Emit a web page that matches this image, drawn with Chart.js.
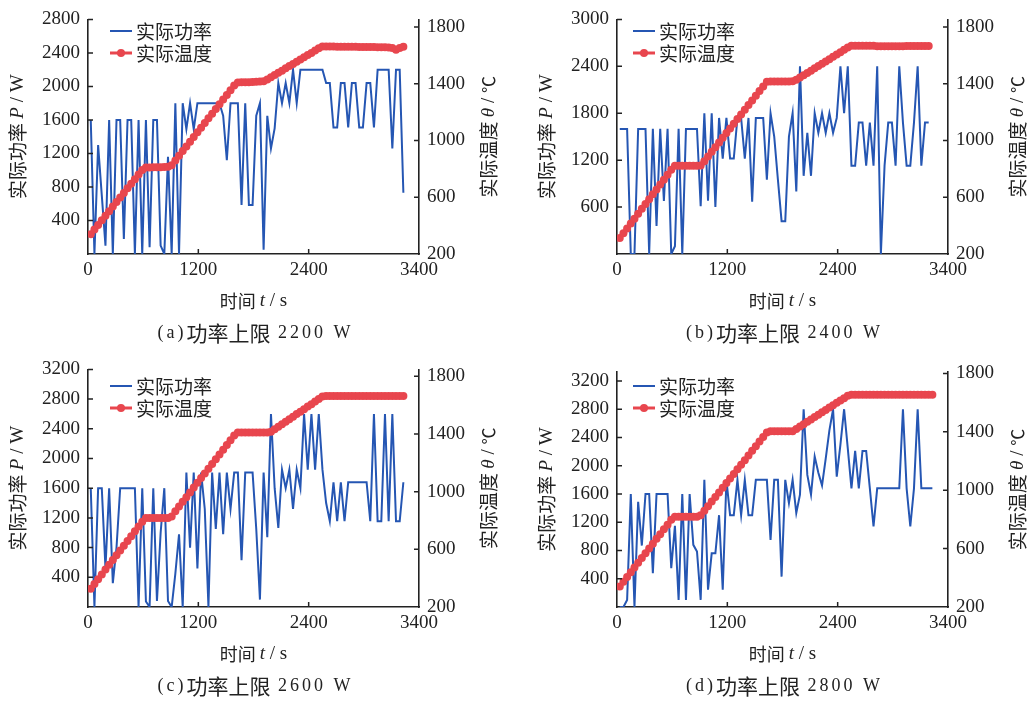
<!DOCTYPE html>
<html>
<head>
<meta charset="utf-8">
<script src="https://cdn.jsdelivr.net/npm/chart.js@4/dist/chart.umd.min.js"></script>
<style>
  html, body { margin: 0; padding: 0; background: #fff; }
  #wrap { position: relative; width: 1035px; height: 701px; }
  .cell { position: absolute; }
</style>
</head>
<body>
<div id="wrap">
  <div class="cell" style="left:0;top:0"><canvas id="cA" width="517" height="350"></canvas></div>
  <div class="cell" style="left:517px;top:0"><canvas id="cB" width="518" height="350"></canvas></div>
  <div class="cell" style="left:0;top:350px"><canvas id="cC" width="517" height="351"></canvas></div>
  <div class="cell" style="left:517px;top:350px"><canvas id="cD" width="518" height="351"></canvas></div>
</div>
<script>
// time samples (s)
const timeS = [30,70,110,150,190,230,270,310,350,390,
  430,470,510,550,590,630,670,710,750,790,
  830,870,910,950,990,1030,1070,1110,1150,1190,
  1230,1270,1310,1350,1390,1430,1470,1510,1550,1590,
  1630,1670,1710,1750,1790,1830,1870,1910,1950,1990,
  2030,2070,2110,2150,2190,2230,2270,2310,2350,2390,
  2430,2470,2510,2550,2590,2630,2670,2710,2750,2790,
  2830,2870,2910,2950,2990,3030,3070,3110,3150,3190,
  3230,3270,3310,3350,3390,3430];

// (a) power limit 2200 W
const powerA = [1600,0,1300,700,100,1600,0,1600,1600,180,
  1600,1600,0,1600,0,1600,80,1600,1600,100,
  0,1160,0,1800,0,1800,1490,1800,1490,1800,
  1800,1800,1800,1800,1800,1800,1650,1120,1800,1800,
  1800,585,1800,585,585,1650,1800,50,1650,1260,
  1500,2040,1800,2040,1800,2200,1800,2200,2200,2200,
  2200,2200,2200,2200,2040,2040,1510,1510,2040,2040,
  1510,2040,2040,1510,1510,2040,2040,1510,2200,2200,
  2200,2200,1260,2200,2200,730];
const tempA = [340,372,405,437,469,501,534,566,598,630,
  663,695,727,760,792,810,810,811,812,812,
  813,814,826,859,892,925,958,991,1024,1057,
  1090,1123,1156,1189,1222,1255,1288,1321,1354,1387,
  1409,1410,1410,1411,1412,1414,1416,1418,1430,1446,
  1461,1477,1492,1508,1524,1539,1555,1570,1586,1602,
  1617,1633,1649,1662,1662,1662,1662,1661,1661,1661,
  1660,1660,1660,1659,1659,1659,1658,1658,1657,1657,
  1656,1655,1652,1640,1652,1660];

// (b) power limit 2400 W
const powerB = [1600,1600,1600,0,0,1600,1600,1600,0,1600,
  360,1600,680,1600,0,100,1600,0,1600,1600,
  1600,1600,610,1800,680,1800,600,1740,1220,1740,
  1220,1220,1740,1740,1220,1740,670,1740,1740,1740,
  950,1800,1500,950,420,420,1500,1800,800,2400,
  1000,1550,1000,1800,1550,1800,1550,1800,1550,1740,
  2400,1800,2400,1130,1130,1680,1680,1130,1680,1130,
  2400,0,1130,1680,1680,1130,2400,1680,1130,1130,
  1680,2400,1130,1680,1680,null];
const tempB = [312,346,380,415,449,483,518,552,586,621,
  655,690,724,758,793,822,822,822,822,822,
  822,822,823,854,887,920,953,986,1019,1052,
  1085,1118,1151,1183,1216,1249,1282,1315,1348,1380,
  1413,1416,1416,1416,1416,1416,1416,1417,1427,1443,
  1459,1476,1492,1508,1525,1541,1557,1573,1590,1606,
  1622,1639,1655,1667,1667,1667,1667,1667,1667,1667,
  1664,1663,1663,1663,1664,1664,1664,1664,1665,1665,
  1665,1665,1665,1665,1665,null];

// (c) power limit 2600 W
const powerC = [1600,0,1600,1600,520,1600,320,800,1600,1600,
  1600,1600,1600,0,1600,75,0,1600,80,1000,
  1600,80,0,450,980,0,1810,800,1810,520,
  1810,1320,0,1810,1050,1810,980,1810,1320,1810,
  1810,630,1810,1810,1810,1050,100,1810,940,2600,
  1600,1066,1850,1600,1850,1320,1850,1600,2600,1850,
  2600,1850,2600,1850,1400,1155,1680,1155,1680,1155,
  1680,1680,1680,1680,1680,1680,1155,2600,1155,1155,
  2600,1155,2600,1155,1155,1680];
const tempC = [327,360,393,426,460,493,526,559,592,625,
  658,691,725,758,791,818,818,818,818,818,
  818,818,828,864,897,930,962,995,1028,1061,
  1094,1126,1159,1192,1225,1258,1290,1323,1356,1389,
  1411,1411,1411,1411,1411,1411,1411,1411,1411,1416,
  1433,1451,1468,1485,1503,1520,1538,1555,1572,1590,
  1607,1625,1642,1660,1663,1663,1663,1663,1663,1663,
  1663,1663,1663,1663,1663,1663,1663,1663,1663,1663,
  1663,1663,1663,1663,1663,1663];

// (d) power limit 2800 W
const powerD = [0,0,100,1600,0,1490,870,1600,1600,480,
  1600,1600,1600,1600,550,1150,100,1600,100,1600,
  880,786,100,1800,245,760,760,1300,245,1800,
  1300,1300,1800,1300,1800,1300,1300,1800,1800,1800,
  1800,950,1800,1800,430,1800,1470,1800,1330,1590,
  2800,1870,1590,2130,1900,1720,2100,2500,2800,1845,
  2300,2800,2245,1680,2210,1680,2210,2210,1680,1140,
  1680,1680,1680,1680,1680,1680,1680,2800,1680,1140,
  1680,2800,1680,1680,1680,1680];
const tempD = [340,373,405,438,471,503,536,569,601,634,
  667,699,732,764,797,819,819,819,819,819,
  819,819,828,859,891,922,954,985,1017,1049,
  1080,1112,1143,1175,1206,1238,1270,1301,1333,1364,
  1396,1404,1404,1404,1404,1404,1404,1404,1420,1436,
  1452,1469,1485,1501,1517,1534,1550,1566,1582,1599,
  1615,1631,1647,1654,1654,1654,1654,1654,1654,1654,
  1654,1654,1654,1654,1654,1654,1654,1654,1654,1654,
  1654,1654,1654,1654,1654,1654];

// tick labels
const timeTicks = [0, 1200, 2400, 3600];
const timeTickLabels = ['0', '1200', '2400', '3400'];
const powerTicksA = [0,400,800,1200,1600,2000,2400,2800];
const powerTicksB = [0,600,1200,1800,2400,3000];
const powerTicksCD = [0,400,800,1200,1600,2000,2400,2800,3200];
const tempTicks = [200,600,1000,1400,1800];

const seriesNames = ['实际功率', '实际温度'];
const panelLetters = ['a', 'b', 'c', 'd'];
const powerLimits = ['2200', '2400', '2600', '2800'];

const BLUE = '#2556b3';
const RED = '#e8464e';
const INK = '#222';
const CJK = '"Noto Sans CJK SC"';
const SERIF = '"Liberation Serif", "DejaVu Serif", serif';

function drawRuns(ctx, runs, x, y) {
  let total = 0;
  runs.forEach(r => {
    ctx.font = r.font;
    r.w = ctx.measureText(r.text).width + (r.ls || 0) * r.text.length;
    total += r.w;
  });
  let cx = x - total / 2;
  ctx.textAlign = 'left';
  ctx.textBaseline = 'middle';
  runs.forEach(r => {
    ctx.font = r.font;
    if (r.ls) {
      for (const ch of r.text) {
        ctx.fillText(ch, cx, y);
        cx += ctx.measureText(ch).width + r.ls;
      }
    } else {
      ctx.fillText(r.text, cx, y);
      cx += r.w;
    }
  });
}

const decor = {
  id: 'decor',
  afterDraw(chart, args, o) {
    const { ctx, chartArea: a, scales } = chart;
    ctx.save();
    // inward tick marks
    ctx.strokeStyle = INK;
    ctx.lineWidth = 1.5;
    ctx.beginPath();
    scales.x.ticks.forEach(t => {
      const px = scales.x.getPixelForValue(t.value);
      if (px > a.left + 2 && px < a.right - 2) { ctx.moveTo(px, a.bottom); ctx.lineTo(px, a.bottom - 5); }
    });
    scales.yP.ticks.forEach(t => {
      const py = scales.yP.getPixelForValue(t.value);
      if (py < a.bottom - 2) { ctx.moveTo(a.left, py); ctx.lineTo(a.left + 5, py); }
    });
    scales.yT.ticks.forEach(t => {
      const py = scales.yT.getPixelForValue(t.value);
      if (py < a.bottom - 2) { ctx.moveTo(a.right, py); ctx.lineTo(a.right - 5, py); }
    });
    ctx.stroke();

    ctx.fillStyle = INK;
    const cy = (a.top + a.bottom) / 2;
    // left title
    ctx.save();
    ctx.translate(a.left - 70, cy);
    ctx.rotate(-Math.PI / 2);
    drawRuns(ctx, [
      { text: '实际功率 ', font: '19px ' + CJK },
      { text: 'P', font: 'italic 19px ' + SERIF },
      { text: ' / W', font: '19px ' + SERIF }
    ], 0, 0);
    ctx.restore();
    // right title
    ctx.save();
    ctx.translate(a.right + 70, cy);
    ctx.rotate(-Math.PI / 2);
    drawRuns(ctx, [
      { text: '实际温度 ', font: '19px ' + CJK },
      { text: 'θ', font: 'italic 19px ' + SERIF },
      { text: ' / ', font: '19px ' + SERIF },
      { text: '℃', font: '17px ' + CJK }
    ], 0, 0);
    ctx.restore();
    // x title
    const cx = (a.left + a.right) / 2;
    drawRuns(ctx, [
      { text: '时间 ', font: '18px ' + CJK },
      { text: 't', font: 'italic 19px ' + SERIF },
      { text: ' / s', font: '19px ' + SERIF }
    ], cx, a.bottom + 47);
    // caption
    drawRuns(ctx, [
      { text: '(' + o.letter + ')', font: '18px ' + SERIF, ls: 3 },
      { text: '功率上限', font: '21px ' + CJK },
      { text: ' ' + o.limit + ' W', font: '18px ' + SERIF, ls: 3 }
    ], cx + 2, a.bottom + 79);

    // legend
    const [lx, ly] = o.legend;
    ctx.font = '19px ' + CJK;
    ctx.textAlign = 'left';
    ctx.textBaseline = 'middle';
    chart.data.datasets.forEach((ds, i) => {
      const y = ly + i * 22;
      ctx.strokeStyle = ds.borderColor;
      ctx.lineWidth = Math.min(ds.borderWidth, 3);
      ctx.beginPath();
      ctx.moveTo(lx, y);
      ctx.lineTo(lx + 22, y);
      ctx.stroke();
      if (ds.pointRadius > 0) {
        ctx.fillStyle = ds.pointBackgroundColor;
        ctx.beginPath();
        ctx.arc(lx + 11, y, 4, 0, Math.PI * 2);
        ctx.fill();
      }
      ctx.fillStyle = INK;
      ctx.fillText(ds.label, lx + 26, y + 1);
    });
    ctx.restore();
  }
};

const panels = [
  { id: 'cA', power: powerA, temp: tempA, pTicks: powerTicksA, pMax: 2800, tMax: 1853,
    left: 88, right: 98, top: 14, bottom: 96, legend: [110, 31] },
  { id: 'cB', power: powerB, temp: tempB, pTicks: powerTicksB, pMax: 3000, tMax: 1853,
    left: 100, right: 87, top: 14, bottom: 96, legend: [116, 31] },
  { id: 'cC', power: powerC, temp: tempC, pTicks: powerTicksCD, pMax: 3200, tMax: 1848,
    left: 88, right: 98, top: 17, bottom: 94, legend: [110, 36] },
  { id: 'cD', power: powerD, temp: tempD, pTicks: powerTicksCD, pMax: 3327, tMax: 1810,
    left: 100, right: 87, top: 22, bottom: 94, legend: [116, 36] }
];

const tickFont = { family: SERIF, size: 19 };

panels.forEach((p, k) => {
  const ctx = document.getElementById(p.id).getContext('2d');
  new Chart(ctx, {
    type: 'line',
    data: {
      datasets: [{
        label: seriesNames[0],
        data: timeS.map((t, i) => ({ x: t, y: p.power[i] })),
        yAxisID: 'yP',
        borderColor: BLUE,
        borderWidth: 2,
        pointRadius: 0,
        tension: 0,
        order: 1
      }, {
        label: seriesNames[1],
        data: timeS.map((t, i) => ({ x: t, y: p.temp[i] })),
        yAxisID: 'yT',
        borderColor: RED,
        backgroundColor: RED,
        pointBackgroundColor: RED,
        borderWidth: 4,
        pointRadius: 4,
        pointBorderWidth: 0,
        tension: 0,
        order: 0
      }]
    },
    options: {
      responsive: false,
      animation: false,
      events: [],
      layout: { padding: { top: p.top, left: 0, right: 0, bottom: 0 } },
      plugins: {
        legend: { display: false },
        tooltip: { enabled: false },
        decor: { letter: panelLetters[k], limit: powerLimits[k], legend: p.legend }
      },
      scales: {
        x: {
          type: 'linear',
          min: 0, max: 3600,
          afterBuildTicks: s => { s.ticks = timeTicks.map(v => ({ value: v })); },
          afterFit: s => { s.height = p.bottom; },
          grid: { display: false, drawTicks: false },
          border: { display: true, color: INK, width: 1.6 },
          ticks: {
            autoSkip: false, maxRotation: 0, padding: 5, color: INK, font: tickFont,
            callback: (v) => timeTickLabels[timeTicks.indexOf(v)]
          }
        },
        yP: {
          type: 'linear', position: 'left',
          min: 0, max: p.pMax,
          afterBuildTicks: s => { s.ticks = p.pTicks.map(v => ({ value: v })); },
          afterFit: s => { s.width = p.left; },
          grid: { display: false, drawTicks: false },
          border: { display: true, color: INK, width: 1.6 },
          ticks: { padding: 8, color: INK, font: tickFont, callback: v => v === 0 ? '' : String(v) }
        },
        yT: {
          type: 'linear', position: 'right',
          min: 200, max: p.tMax,
          afterBuildTicks: s => { s.ticks = tempTicks.map(v => ({ value: v })); },
          afterFit: s => { s.width = p.right; },
          grid: { display: false, drawTicks: false },
          border: { display: true, color: INK, width: 1.6 },
          ticks: { padding: 8, color: INK, font: tickFont, callback: v => String(v) }
        }
      }
    },
    plugins: [decor]
  });
});
</script>
</body>
</html>
